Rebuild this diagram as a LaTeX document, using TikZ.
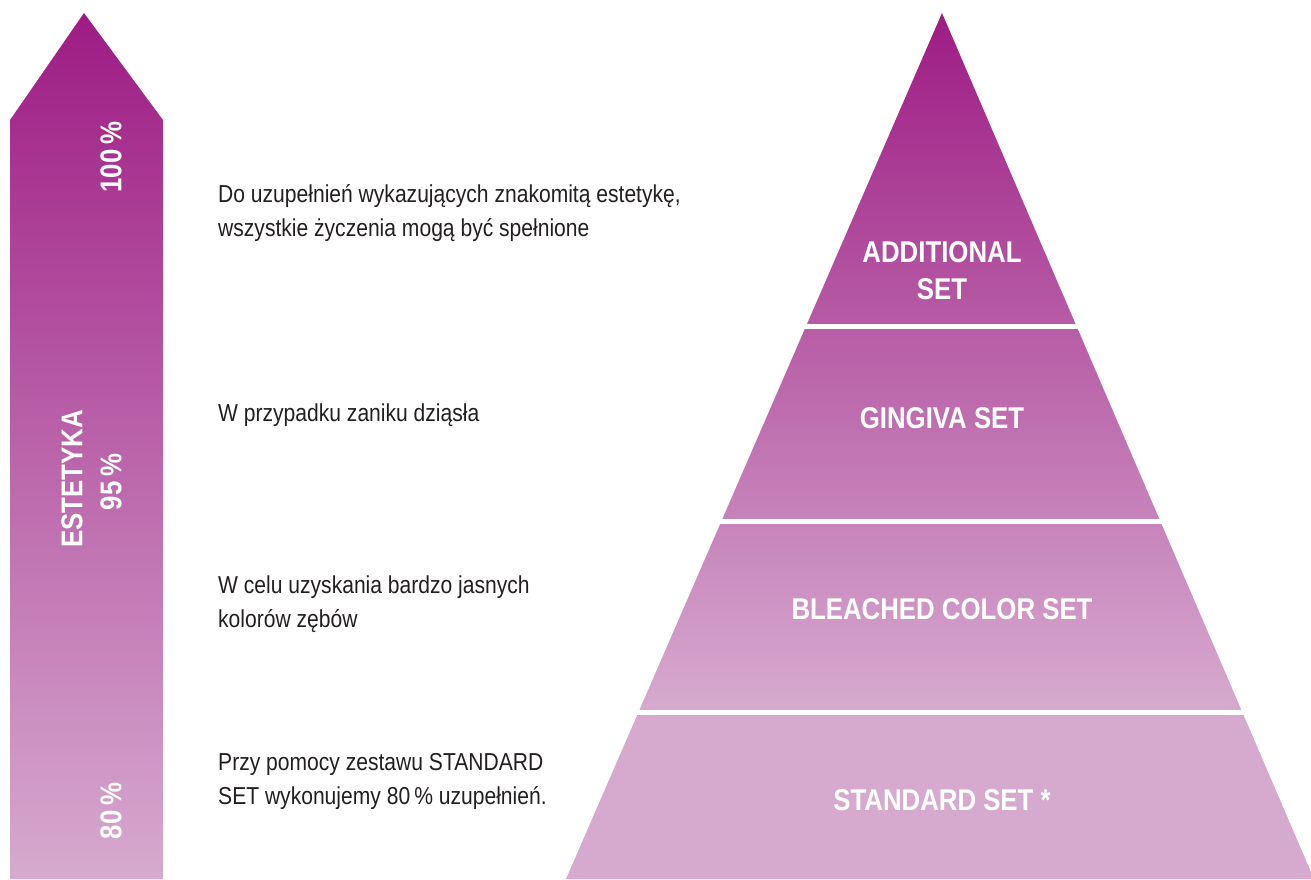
\documentclass[tikz,border=0pt]{standalone}
\usepackage{fontspec}
\setmainfont[FakeStretch=0.86]{Liberation Sans}
\newfontfamily\lblfont[FakeStretch=0.86]{Liberation Sans Bold}
\definecolor{ptop}{RGB}{158,28,132}
\definecolor{pbot}{RGB}{214,170,207}
\definecolor{txtgray}{RGB}{35,31,32}
\pgfdeclareverticalshading{pyrshade}{100bp}{color(0bp)=(pbot); color(34.75bp)=(pbot); color(75bp)=(ptop); color(100bp)=(ptop)}
\pgfdeclareverticalshading{arrshade}{100bp}{color(0bp)=(pbot); color(25bp)=(pbot); color(75bp)=(ptop); color(100bp)=(ptop)}
\tikzset{
  desc/.style={anchor=west, align=left, text=txtgray, font=\fontsize{24.5}{34}\selectfont, inner sep=0pt},
  lvl/.style={text=white, align=center, font=\lblfont\fontsize{30}{37}\selectfont, inner sep=0pt},
  arrlbl/.style={text=white, align=center, rotate=90, font=\lblfont\fontsize{30}{32}\selectfont, inner sep=0pt},
  gap/.style={draw=white, line width=5pt}
}
\begin{document}
\begin{tikzpicture}[x=1pt,y=-1pt]
\useasboundingbox (0,0) rectangle (1311,879);
% arrow
\shade[shading=arrshade] (10,879) -- (10,120) -- (84,13) -- (163,120) -- (163,879) -- cycle;
% pyramid
\shade[shading=pyrshade] (566,879) -- (942,13) -- (1314,879) -- cycle;
\coordinate (g1l) at (780,326); \coordinate (g1r) at (1100,326);
\coordinate (g2l) at (690,521); \coordinate (g2r) at (1190,521);
\coordinate (g3l) at (600,712); \coordinate (g3r) at (1280,712);
\draw[gap] (g1l) -- (g1r);
\draw[gap] (g2l) -- (g2r);
\draw[gap] (g3l) -- (g3r);
% pyramid labels
\node[lvl] (add) at (942,271) {ADDITIONAL\\SET};
\node[lvl] (ging) at (942,418) {GINGIVA SET};
\node[lvl] (blea) at (942,609) {BLEACHED COLOR SET};
\node[lvl] (std) at (942,800) {STANDARD SET *};
% arrow labels
\node[arrlbl] (p100) at (111,157) {100\,\%};
\node[arrlbl] (est) at (72,479) {ESTETYKA};
\node[arrlbl] (p95) at (111,482) {95\,\%};
\node[arrlbl] (p80) at (111,811) {80\,\%};
% descriptions
\node[desc] (d1) at (218,213) {Do uzupełnień wykazujących znakomitą estetykę,\\wszystkie życzenia mogą być spełnione};
\node[desc] (d2) at (218,415) {W przypadku zaniku dziąsła};
\node[desc] (d3) at (218,604) {W celu uzyskania bardzo jasnych\\kolorów zębów};
\node[desc] (d4) at (218,781) {Przy pomocy zestawu STANDARD\\SET wykonujemy 80\,\% uzupełnień.};
\end{tikzpicture}
\end{document}
